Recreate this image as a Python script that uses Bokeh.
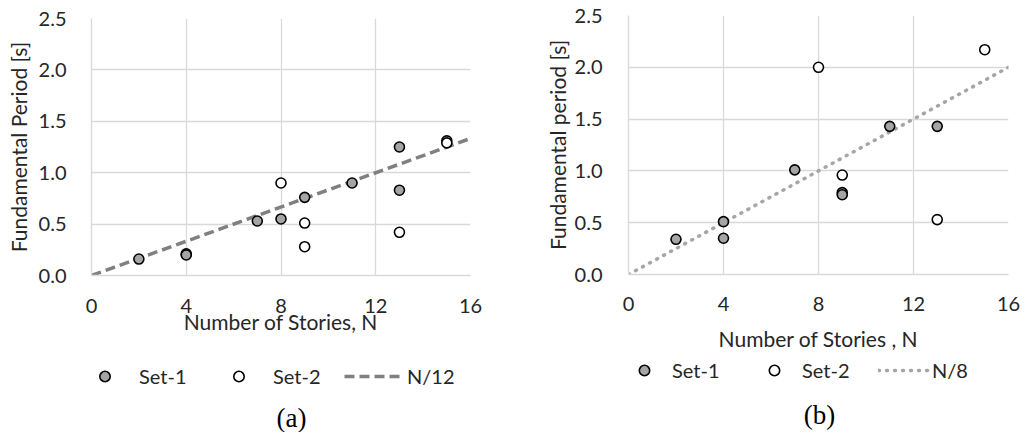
from bokeh.plotting import figure
from bokeh.layouts import row, column
from bokeh.models import Range1d, FixedTicker, Legend, LegendItem, Label, NumeralTickFormatter
from bokeh.embed import file_html
from bokeh.resources import INLINE

# ---- data: chart (a)
a_set1_n = [2, 4, 4, 7, 8, 9, 11, 13, 13]
a_set1_t = [0.16, 0.21, 0.20, 0.53, 0.55, 0.76, 0.90, 1.25, 0.83]
a_set2_n = [8, 9, 9, 13, 15, 15]
a_set2_t = [0.90, 0.51, 0.28, 0.42, 1.31, 1.29]
a_line_n = [0, 16]
a_line_t = [0.0, 1.333]

# ---- data: chart (b)
b_set1_n = [2, 4, 4, 7, 9, 9, 11, 13]
b_set1_t = [0.34, 0.51, 0.35, 1.01, 0.79, 0.77, 1.43, 1.43]
b_set2_n = [8, 9, 13, 15]
b_set2_t = [2.00, 0.96, 0.53, 2.17]
b_line_n = [0, 16]
b_line_t = [0.0, 2.0]

x_ticks = [0, 4, 8, 12, 16]
y_ticks = [0.0, 0.5, 1.0, 1.5, 2.0, 2.5]

FONT = "Lato"
FS = "20px"
FS_T = "21px"
GRID = "#d9d9d9"
TXT = "#262626"
SET1 = dict(size=10, fill_color="#a5a5a5", line_color="black", line_width=1.6)
SET2 = dict(size=10, fill_color="white", line_color="black", line_width=1.6)


def make(heights, borders, ytitle, xtitle, s1n, s1t, s2n, s2t, ln, lt, line_kw, line_label,
         caption, leg_kw, axis_kw):
    h_top, h_bot = heights
    bl, br, bt, bb = borders
    p = figure(width=514, height=h_top, output_backend="svg", toolbar_location=None,
               x_range=Range1d(0, 16), y_range=Range1d(0, 2.5),
               min_border_left=bl, min_border_right=br, min_border_top=bt,
               min_border_bottom=bb)
    p.outline_line_color = None
    p.xaxis.ticker = FixedTicker(ticks=x_ticks)
    p.yaxis.ticker = FixedTicker(ticks=y_ticks)
    p.yaxis.formatter = NumeralTickFormatter(format="0.0")
    for g in (p.xgrid, p.ygrid):
        g.grid_line_color = GRID
        g.grid_line_width = 1.3
    for ax in (p.xaxis, p.yaxis):
        ax.axis_line_color = GRID
        ax.axis_line_width = 1.3
        ax.major_tick_line_color = None
        ax.minor_tick_line_color = None
        ax.major_label_text_font = FONT
        ax.major_label_text_font_size = FS
        ax.major_label_text_color = TXT
        ax.axis_label_text_font = FONT
        ax.axis_label_text_font_size = FS_T
        ax.axis_label_text_font_style = "normal"
        ax.axis_label_text_color = TXT
    p.xaxis.axis_label = xtitle
    p.yaxis.axis_label = ytitle
    p.xaxis.major_label_standoff = axis_kw["xls"]
    p.xaxis.axis_label_standoff = axis_kw["xas"]
    p.yaxis.major_label_standoff = axis_kw["yls"]
    p.yaxis.axis_label_standoff = axis_kw["yas"]

    p.line(ln, lt, **line_kw)
    p.scatter(s1n, s1t, **SET1)
    p.scatter(s2n, s2t, **SET2)

    # legend + caption strip below the chart (its own ranges keep the proxy glyphs out of view)
    q = figure(width=514, height=h_bot, output_backend="svg", toolbar_location=None,
               x_axis_location=None, y_axis_location=None, min_border=0,
               x_range=Range1d(100, 101), y_range=Range1d(100, 101))
    q.outline_line_color = None
    q.xgrid.visible = False
    q.ygrid.visible = False
    g1 = q.scatter(s1n, s1t, **SET1)
    g2 = q.scatter(s2n, s2t, **SET2)
    g3 = q.line(ln, lt, **line_kw)
    leg = Legend(items=[LegendItem(label="Set-1", renderers=[g1]),
                        LegendItem(label="Set-2", renderers=[g2]),
                        LegendItem(label=line_label, renderers=[g3])],
                 orientation="horizontal", border_line_color=None,
                 background_fill_alpha=0,
                 label_text_font=FONT, label_text_font_size=FS, label_text_color=TXT,
                 glyph_width=leg_kw["gw"], glyph_height=26, label_standoff=leg_kw["ls"],
                 spacing=0, label_width=leg_kw["lw"], margin=0, padding=0,
                 location=leg_kw["loc"])
    q.add_layout(leg, "center")
    cap = Label(x=leg_kw["cx"], y=leg_kw["cy"], x_units="screen", y_units="screen",
                text=caption, text_font="Liberation Serif", text_font_size="27px",
                text_color="black", text_align="center", text_baseline="middle")
    q.add_layout(cap)
    return column(p, q, spacing=0)


pa = make((345, 87), (91, 44, 18, 70), "Fundamental Period [s]", "Number of Stories, N",
          a_set1_n, a_set1_t, a_set2_n, a_set2_t, a_line_n, a_line_t,
          dict(line_color="#808080", line_width=3.5, line_dash="10 5"), "N/12", "(a)",
          dict(gw=57, ls=6, lw=71, loc=(-15, 43), cx=200, cy=15),
          dict(xls=17, xas=-7, yls=19, yas=5))

pb = make((355, 77), (114, 20, 15, 81), "Fundamental period [s]", "Number of Stories , N",
          b_set1_n, b_set1_t, b_set2_n, b_set2_t, b_line_n, b_line_t,
          dict(line_color="#a6a6a6", line_width=3.5, line_dash="1 7", line_cap="round"),
          "N/8", "(b)",
          dict(gw=52, ls=2, lw=76, loc=(-10, 49), cx=191, cy=18),
          dict(xls=16, xas=12, yls=20, yas=2))

layout = row(pa, pb, spacing=0)
open("out.html", "w").write(file_html(layout, INLINE))
